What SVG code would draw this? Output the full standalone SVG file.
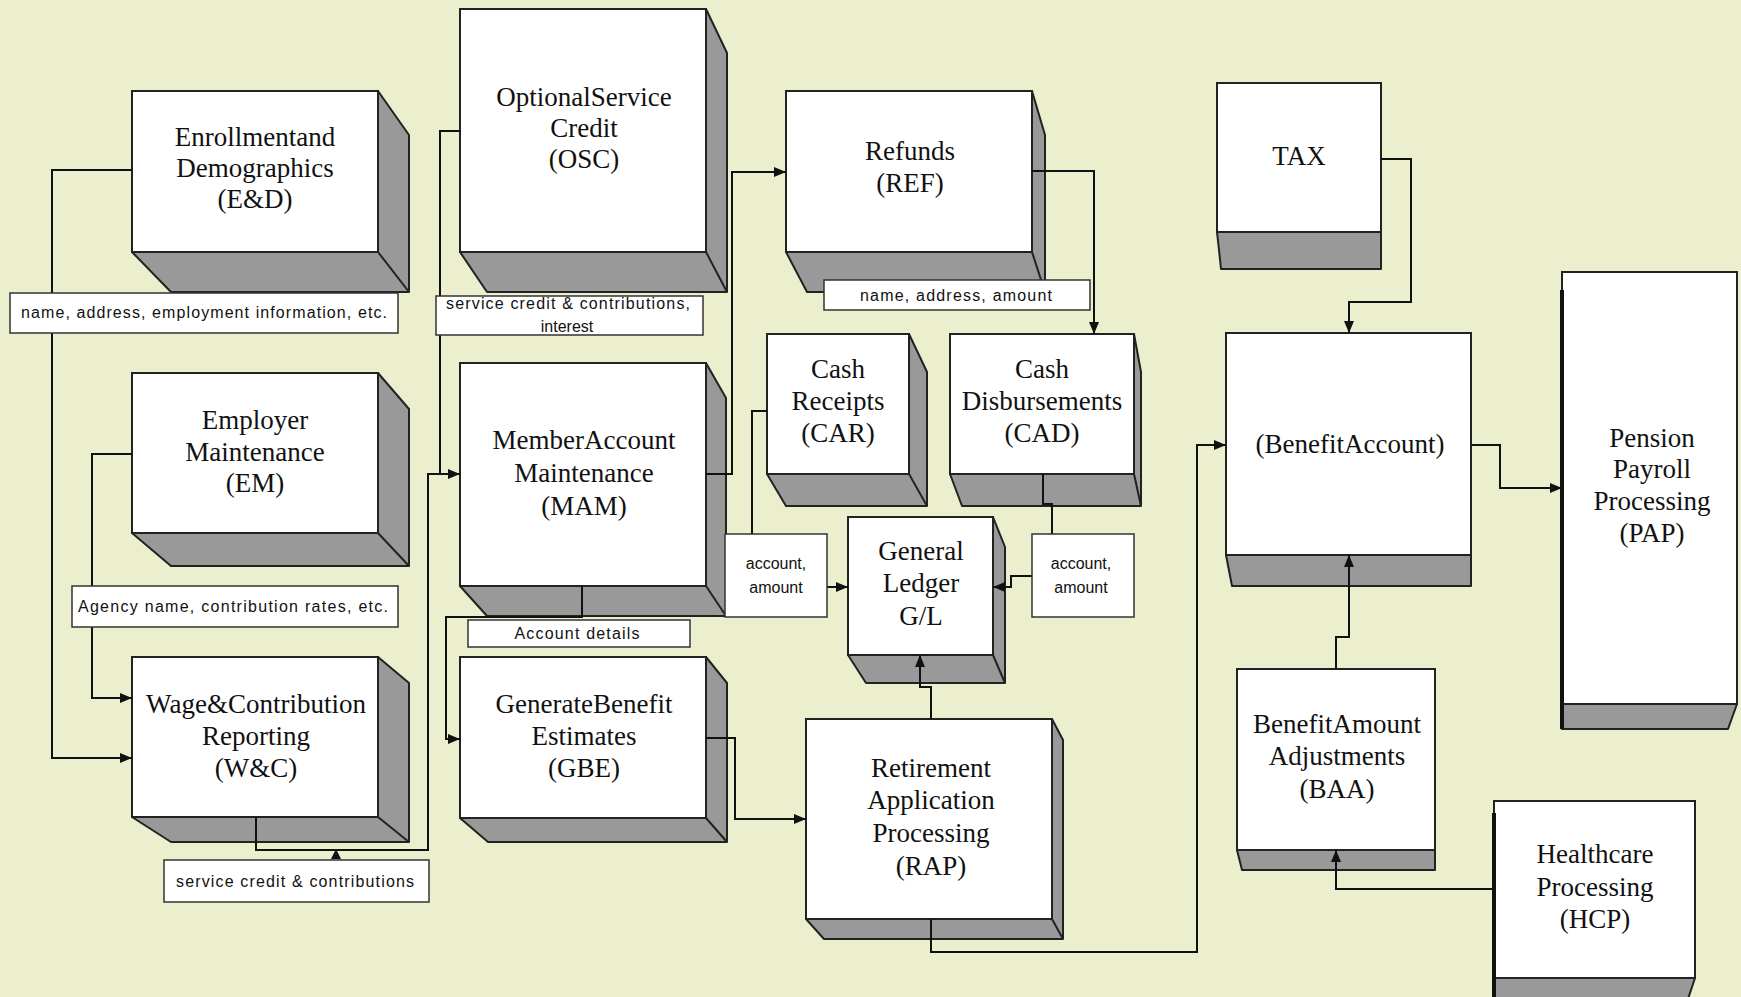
<svg xmlns="http://www.w3.org/2000/svg" width="1741" height="997" viewBox="0 0 1741 997">
<defs>
<marker id="ah" markerWidth="12" markerHeight="10" refX="12" refY="5" orient="auto" markerUnits="userSpaceOnUse">
<path d="M0,0 L12,5 L0,10 Z" fill="#111"/>
</marker>
<style>
.front{fill:#fff;stroke:#222;stroke-width:2}
.side{fill:#999;stroke:#222;stroke-width:2;stroke-linejoin:round}
.edge{stroke:#222;stroke-width:2;fill:none}
.nt{font-family:"Liberation Serif","Times New Roman",serif;font-size:27px;fill:#111;text-anchor:middle}
.lb{fill:#fff;stroke:#333;stroke-width:1.5}
.lt{font-family:"Liberation Sans",Arial,sans-serif;font-size:16px;fill:#111;text-anchor:middle}
.cn{fill:none;stroke:#111;stroke-width:2}
.ca{fill:none;stroke:#111;stroke-width:2;marker-end:url(#ah)}
</style>
</defs>
<rect width="1741" height="997" fill="#ECEFCD"/>

<g id="ED">
<polygon class="side" points="378,91 409,135 409,292 171,292 132,252 378,252"/>
<rect class="front" x="132" y="91" width="246" height="161"/>
<line class="edge" x1="378" y1="252" x2="409" y2="292"/>
<text class="nt" x="255" y="146">Enrollmentand</text>
<text class="nt" x="255" y="177">Demographics</text>
<text class="nt" x="255" y="208">(E&amp;D)</text>
</g>

<g id="EM">
<polygon class="side" points="378,373 409,409 409,566 171,566 132,533 378,533"/>
<rect class="front" x="132" y="373" width="246" height="160"/>
<line class="edge" x1="378" y1="533" x2="409" y2="566"/>
<text class="nt" x="255" y="429">Employer</text>
<text class="nt" x="255" y="461">Maintenance</text>
<text class="nt" x="255" y="492">(EM)</text>
</g>

<g id="WC">
<polygon class="side" points="378,657 409,683 409,842 171,842 132,817 378,817"/>
<rect class="front" x="132" y="657" width="246" height="160"/>
<line class="edge" x1="378" y1="817" x2="409" y2="842"/>
<text class="nt" x="256" y="713">Wage&amp;Contribution</text>
<text class="nt" x="256" y="745">Reporting</text>
<text class="nt" x="256" y="777">(W&amp;C)</text>
</g>

<g id="OSC">
<polygon class="side" points="706,9 727,53 727,292 487,292 460,252 706,252"/>
<rect class="front" x="460" y="9" width="246" height="243"/>
<line class="edge" x1="706" y1="252" x2="727" y2="292"/>
<text class="nt" x="584" y="106">OptionalService</text>
<text class="nt" x="584" y="137">Credit</text>
<text class="nt" x="584" y="168">(OSC)</text>
</g>

<g id="MAM">
<polygon class="side" points="706,363 726,398 726,616 487,616 460,586 706,586"/>
<rect class="front" x="460" y="363" width="246" height="223"/>
<line class="edge" x1="706" y1="586" x2="726" y2="616"/>
<text class="nt" x="584" y="449">MemberAccount</text>
<text class="nt" x="584" y="482">Maintenance</text>
<text class="nt" x="584" y="515">(MAM)</text>
</g>

<g id="GBE">
<polygon class="side" points="706,657 727,683 727,842 488,842 460,818 706,818"/>
<rect class="front" x="460" y="657" width="246" height="161"/>
<line class="edge" x1="706" y1="818" x2="727" y2="842"/>
<text class="nt" x="584" y="713">GenerateBenefit</text>
<text class="nt" x="584" y="745">Estimates</text>
<text class="nt" x="584" y="777">(GBE)</text>
</g>

<g id="REF">
<polygon class="side" points="1032,91 1045,135 1045,292 807,292 786,252 1032,252"/>
<rect class="front" x="786" y="91" width="246" height="161"/>
<line class="edge" x1="1032" y1="252" x2="1045" y2="292"/>
<text class="nt" x="910" y="160">Refunds</text>
<text class="nt" x="910" y="192">(REF)</text>
</g>

<g id="CAR">
<polygon class="side" points="909,334 927,372 927,506 786,506 767,474 909,474"/>
<rect class="front" x="767" y="334" width="142" height="140"/>
<line class="edge" x1="909" y1="474" x2="927" y2="506"/>
<text class="nt" x="838" y="378">Cash</text>
<text class="nt" x="838" y="410">Receipts</text>
<text class="nt" x="838" y="442">(CAR)</text>
</g>

<g id="CAD">
<polygon class="side" points="1134,334 1141,372 1141,506 962,506 950,474 1134,474"/>
<rect class="front" x="950" y="334" width="184" height="140"/>
<line class="edge" x1="1134" y1="474" x2="1141" y2="506"/>
<text class="nt" x="1042" y="378">Cash</text>
<text class="nt" x="1042" y="410">Disbursements</text>
<text class="nt" x="1042" y="442">(CAD)</text>
</g>

<g id="GL">
<polygon class="side" points="993,517 1005,547 1005,683 866,683 848,655 993,655"/>
<rect class="front" x="848" y="517" width="145" height="138"/>
<line class="edge" x1="993" y1="655" x2="1005" y2="683"/>
<text class="nt" x="921" y="560">General</text>
<text class="nt" x="921" y="592">Ledger</text>
<text class="nt" x="921" y="625">G/L</text>
</g>

<g id="RAP">
<polygon class="side" points="1052,719 1063,740 1063,939 824,939 806,919 1052,919"/>
<rect class="front" x="806" y="719" width="246" height="200"/>
<line class="edge" x1="1052" y1="919" x2="1063" y2="939"/>
<text class="nt" x="931" y="777">Retirement</text>
<text class="nt" x="931" y="809">Application</text>
<text class="nt" x="931" y="842">Processing</text>
<text class="nt" x="931" y="875">(RAP)</text>
</g>

<g id="TAX">
<polygon class="side" points="1217,232 1381,232 1381,269 1221,269 1219,250"/>
<rect class="front" x="1217" y="83" width="164" height="149"/>
<text class="nt" x="1299" y="165">TAX</text>
</g>

<g id="BA">
<polygon class="side" points="1226,555 1471,555 1471,586 1232,586"/>
<rect class="front" x="1226" y="333" width="245" height="222"/>
<text class="nt" x="1350" y="453">(BenefitAccount)</text>
</g>

<g id="PAP">
<polygon class="side" points="1562,704 1737,704 1728,729 1562,729"/>
<rect class="front" x="1562" y="272" width="175" height="432"/>
<line x1="1562" y1="290" x2="1562" y2="729" stroke="#111" stroke-width="4"/>
<text class="nt" x="1652" y="447">Pension</text>
<text class="nt" x="1652" y="478">Payroll</text>
<text class="nt" x="1652" y="510">Processing</text>
<text class="nt" x="1652" y="542">(PAP)</text>
</g>

<g id="BAA">
<polygon class="side" points="1237,850 1435,850 1435,870 1242,870"/>
<rect class="front" x="1237" y="669" width="198" height="181"/>
<text class="nt" x="1337" y="733">BenefitAmount</text>
<text class="nt" x="1337" y="765">Adjustments</text>
<text class="nt" x="1337" y="798">(BAA)</text>
</g>

<g id="HCP">
<polygon class="side" points="1494,978 1695,978 1688,999 1494,999"/>
<rect class="front" x="1494" y="801" width="201" height="177"/>
<line x1="1494" y1="813" x2="1494" y2="997" stroke="#111" stroke-width="4"/>
<text class="nt" x="1595" y="863">Healthcare</text>
<text class="nt" x="1595" y="896">Processing</text>
<text class="nt" x="1595" y="928">(HCP)</text>
</g>

<g id="connectors">
<polyline class="ca" points="132,170 52,170 52,758 132,758"/>
<polyline class="ca" points="132,454 92,454 92,698 132,698"/>
<polyline class="ca" points="460,131 440,131 440,474 460,474"/>
<polyline class="cn" points="256,817 256,850 428,850 428,474 446,474"/>
<path d="M336,849 L331,859 L341,859 Z" fill="#111"/>
<polyline class="ca" points="582,586 582,617 446,617 446,739 460,739"/>
<polyline class="ca" points="706,474 732,474 732,172 786,172"/>
<polyline class="ca" points="1032,171 1094,171 1094,334"/>
<polyline class="cn" points="767,411 752,411 752,534"/>
<polyline class="ca" points="827,587 848,587"/>
<polyline class="cn" points="1043,474 1043,504 1052,504 1052,534"/>
<polyline class="ca" points="1032,576 1011,576 1011,587 993,587"/>
<polyline class="ca" points="706,738 735,738 735,819 806,819"/>
<polyline class="ca" points="931,719 931,687 920,687 920,655"/>
<polyline class="ca" points="931,919 931,952 1197,952 1197,445 1226,445"/>
<polyline class="ca" points="1381,159 1411,159 1411,302 1349,302 1349,333"/>
<polyline class="ca" points="1471,445 1500,445 1500,488 1562,488"/>
<polyline class="ca" points="1336,669 1336,637 1349,637 1349,555"/>
<polyline class="ca" points="1494,889 1336,889 1336,850"/>
</g>

<g id="labels">
<rect class="lb" x="10" y="293" width="388" height="40"/>
<text class="lt" x="204" y="318" textLength="366" lengthAdjust="spacing">name, address, employment information, etc.</text>
<rect class="lb" x="436" y="296" width="267" height="39"/>
<text class="lt" x="568" y="309" textLength="244" lengthAdjust="spacing">service credit &amp; contributions,</text>
<text class="lt" x="567" y="332">interest</text>
<rect class="lb" x="824" y="280" width="266" height="30"/>
<text class="lt" x="956" y="301" textLength="192" lengthAdjust="spacing">name, address, amount</text>
<rect class="lb" x="72" y="586" width="326" height="41"/>
<text class="lt" x="233" y="612" textLength="310" lengthAdjust="spacing">Agency name, contribution rates, etc.</text>
<rect class="lb" x="725" y="534" width="102" height="83"/>
<text class="lt" x="776" y="569">account,</text>
<text class="lt" x="776" y="593">amount</text>
<rect class="lb" x="1032" y="534" width="102" height="83"/>
<text class="lt" x="1081" y="569">account,</text>
<text class="lt" x="1081" y="593">amount</text>
<rect class="lb" x="468" y="620" width="222" height="27"/>
<text class="lt" x="577" y="639" textLength="125" lengthAdjust="spacing">Account details</text>
<rect class="lb" x="164" y="860" width="265" height="42"/>
<text class="lt" x="295" y="887" textLength="238" lengthAdjust="spacing">service credit &amp; contributions</text>
</g>
</svg>
